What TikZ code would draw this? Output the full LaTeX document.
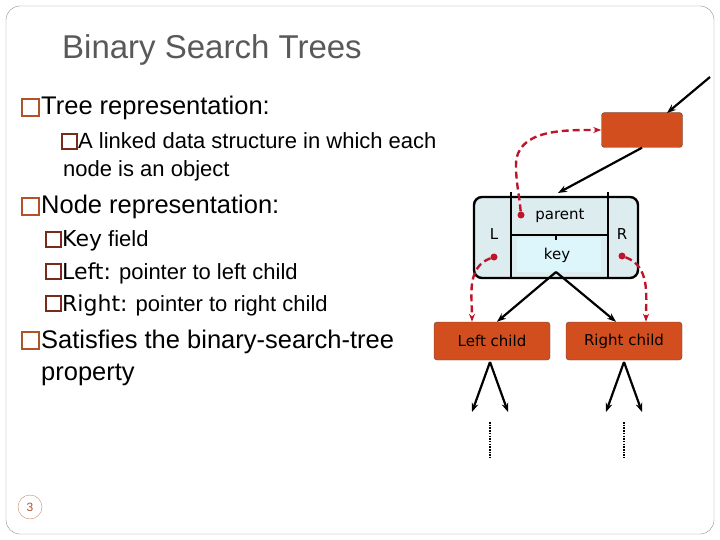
\documentclass[tikz,border=0pt]{standalone}
\usepackage{fontspec}
\setmainfont{Liberation Sans}
\newfontfamily\labfont{DejaVu Sans}
\usetikzlibrary{arrows.meta}
\definecolor{boxorange}{HTML}{D24E1E}
\definecolor{nodeblue}{HTML}{DDECEF}
\definecolor{keyblue}{HTML}{DDF6FB}
\definecolor{ptrred}{HTML}{C0142A}
\definecolor{bulA}{HTML}{B0532A}
\definecolor{bulB}{HTML}{7A2A1A}
\begin{document}
\begin{tikzpicture}[x=1pt,y=-1pt,
    txt/.style={anchor=base west,inner sep=0pt},
    child/.style={draw=black!70,fill=boxorange,rounded corners=3pt,minimum width=116pt,minimum height=38pt,font=\labfont\fontsize{15}{17}\selectfont},
    ptr/.style={ptrred,line width=2.4pt,dash pattern=on 7pt off 4pt,-{Stealth[length=8pt]}},
    arr/.style={line width=2.2pt,-{Stealth[length=9pt]}},
    dot/.style={circle,fill=ptrred,inner sep=0pt,minimum size=7pt}]
\useasboundingbox (0,0) rectangle (720,540);
\draw[black!45,rounded corners=14pt] (6,6) rectangle (714,534);
\node[txt,text=black!65,font=\fontsize{33}{38}\selectfont] (title) at (62,59) {Binary Search Trees};
% bullets
\begin{scope}[font=\fontsize{25.5}{30}\selectfont]
  \draw[bulA,line width=1.3pt] (22,99) rectangle ++(17,17);
  \node[txt] (t1) at (41,115) {Tree representation:};
  \draw[bulA,line width=1.3pt] (22,198) rectangle ++(17,17);
  \node[txt] (t2) at (41,214) {Node representation:};
  \draw[bulA,line width=1.3pt] (22,332) rectangle ++(17,17);
  \node[txt] (t3) at (41,348) {Satisfies the binary-search-tree};
  \node[txt] (t4) at (41,380) {property};
\end{scope}
\begin{scope}[font=\fontsize{22}{26}\selectfont]
  \draw[bulB,line width=1.1pt] (62,134) rectangle ++(15,15);
  \node[txt] (s1) at (78,149) {A linked data structure in which each};
  \node[txt] (s2) at (63,177) {node is an object};
  \draw[bulB,line width=1.1pt] (46,232) rectangle ++(15,15);
  \node[txt] (s3) at (62,247) {{\labfont Key} field};
  \draw[bulB,line width=1.1pt] (46,264) rectangle ++(15,15);
  \node[txt] (s4) at (62,279) {{\labfont Left:} pointer to left child};
  \draw[bulB,line width=1.1pt] (46,296) rectangle ++(15,15);
  \node[txt] (s5) at (62,311) {{\labfont Right:} pointer to right child};
\end{scope}
% page number
\node[circle,draw=bulA!70,minimum size=24pt,font=\fontsize{12}{14}\selectfont,text=bulA] (pg) at (30,507) {3};
% tree node
\draw[line width=2.4pt,fill=nodeblue,rounded corners=8pt] (474,197) rectangle (638,278);
\fill[keyblue] (517,238) rectangle (601,272);
\draw[line width=1.6pt] (511,192) -- (511,277) (608,192) -- (608,277) (511,235) -- (608,235) (556,235) -- (556,240);
\node[font=\labfont\fontsize{15}{17}\selectfont] (parent) at (560,216) {parent};
\node[font=\labfont\fontsize{15}{17}\selectfont] (key) at (557,255) {key};
\node[font=\labfont\fontsize{15}{17}\selectfont] (L) at (494,234) {L};
\node[font=\labfont\fontsize{15}{17}\selectfont] (R) at (622,234) {R};
\coordinate (ktop) at (558,193);
\coordinate (kbot) at (556,272);
\node[draw=black!70,fill=boxorange,rounded corners=3pt,minimum width=81pt,minimum height=35pt] (up) at (642,130) {};
\node[child] (lc) at (492,341) {Left child};
\node[child] (rc) at (624,341) {Right child};
\coordinate (in) at (710,77);
\coordinate (hit) at (667,113);
\draw[arr] (in) -- (hit);
\draw[arr] (up.south) -- (ktop);
\draw[arr] (kbot) -- ([xshift=5pt]lc.north);
\draw[arr] (kbot) -- ([xshift=-8pt]rc.north);
% pointers
\node[dot] (pd) at (521,215) {};
\node[dot] (ld) at (494,257) {};
\node[dot] (rd) at (622,256) {};
\draw[ptr] (pd) to[out=95,in=-90] (516,165) to[out=90,in=180] (up.west);
\draw[ptr] (ld) to[out=200,in=90] ([xshift=-20pt]lc.north);
\draw[ptr] (rd) to[out=-20,in=90] ([xshift=22pt]rc.north);
% subtrees
\foreach \c/\x in {lc/490,rc/624}{
  \coordinate (\c b) at (\x,362);
  \draw[arr] (\c b) -- (\x-18,412);
  \draw[arr] (\c b) -- (\x+18,412);
  \draw[line width=2.4pt,dash pattern=on 1.5pt off 1.2pt] (\x,422) -- (\x,458);
}
\end{tikzpicture}
\end{document}
